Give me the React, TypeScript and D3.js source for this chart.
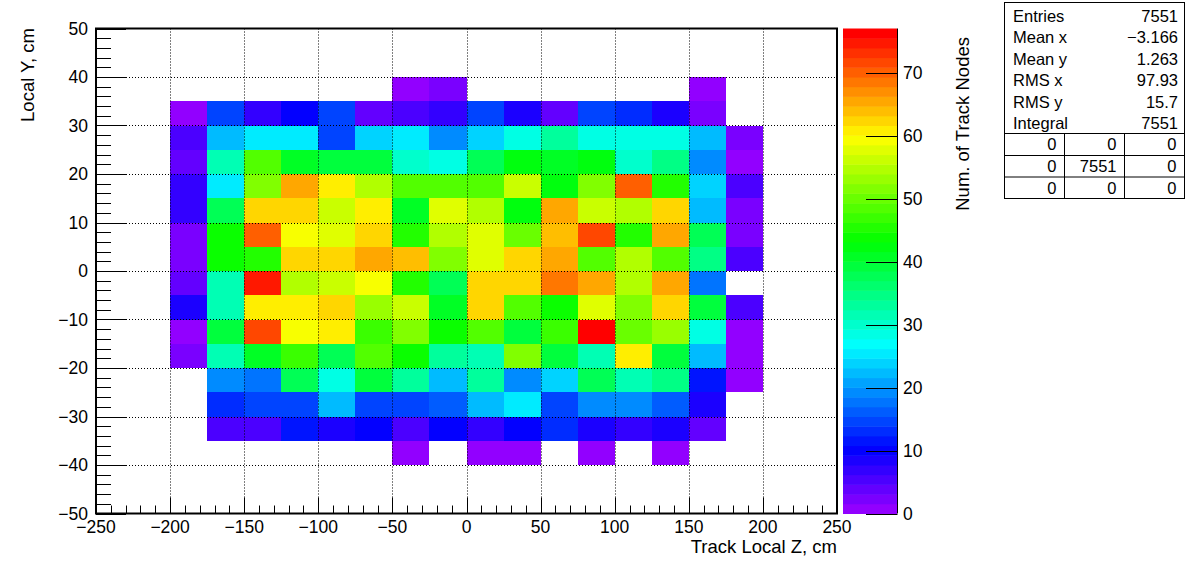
import React, { useEffect, useRef } from 'react';
import * as d3 from 'd3';

// bin low edges (cm)
const zLow = [-200, -175, -150, -125, -100, -75, -50, -25, 0, 25, 50, 75, 100, 125, 150, 175];
const yLow = [35, 30, 25, 20, 15, 10, 5, 0, -5, -10, -15, -20, -25, -30, -35, -40];

// counts per row, top row (y = 35..40) first, columns follow zLow
const row35 = [0, 0, 0, 0, 0, 0, 1, 2, 0, 0, 0, 0, 0, 0, 1, 0];
const row30 = [1, 15, 7, 10, 15, 4, 6, 7, 14, 8, 4, 15, 13, 8, 2, 0];
const row25 = [6, 22, 25, 25, 15, 24, 25, 19, 24, 28, 33, 28, 28, 28, 22, 2];
const row20 = [4, 31, 48, 41, 39, 39, 30, 28, 38, 42, 41, 42, 30, 35, 19, 1];
const row15 = [7, 25, 52, 65, 61, 55, 48, 48, 48, 56, 42, 52, 70, 45, 24, 5];
const row10 = [7, 38, 62, 62, 56, 61, 41, 58, 55, 42, 65, 56, 55, 62, 22, 2];
const row05 = [2, 44, 70, 59, 58, 62, 45, 55, 58, 50, 64, 72, 45, 65, 38, 2];
const row00 = [2, 44, 45, 62, 62, 65, 64, 52, 58, 62, 65, 48, 55, 48, 35, 5];
const rowM05 = [4, 32, 75, 55, 56, 59, 45, 38, 62, 62, 68, 65, 55, 65, 18, 0];
const rowM10 = [8, 32, 61, 61, 62, 53, 56, 41, 62, 48, 44, 58, 52, 62, 39, 5];
const rowM15 = [1, 39, 72, 59, 61, 47, 52, 44, 48, 39, 47, 77, 50, 53, 28, 1];
const rowM20 = [2, 32, 41, 47, 38, 48, 44, 33, 32, 52, 39, 32, 61, 39, 22, 1];
const rowM25 = [0, 19, 18, 38, 28, 39, 33, 22, 33, 19, 24, 38, 32, 35, 11, 1];
const rowM30 = [0, 13, 15, 15, 22, 15, 15, 16, 22, 25, 14, 19, 19, 16, 8, 0];
const rowM35 = [0, 5, 5, 11, 8, 10, 6, 10, 7, 10, 13, 8, 7, 8, 4, 0];
const rowM40 = [0, 0, 0, 0, 0, 0, 1, 0, 1, 1, 0, 1, 0, 1, 0, 0];
const rows = [row35, row30, row25, row20, row15, row10, row05, row00,
  rowM05, rowM10, rowM15, rowM20, rowM25, rowM30, rowM35, rowM40];

const xTicks = [-250, -200, -150, -100, -50, 0, 50, 100, 150, 200, 250];
const yTicks = [-50, -40, -30, -20, -10, 0, 10, 20, 30, 40, 50];
const zTicks = [0, 10, 20, 30, 40, 50, 60, 70];

const statNames = ['Entries', 'Mean x', 'Mean y', 'RMS x', 'RMS y', 'Integral'];
const statValues = ['7551', '\u22123.166', '1.263', '97.93', '15.7', '7551'];
const overflowTable = [['0', '0', '0'], ['0', '7551', '0'], ['0', '0', '0']];

const zMax = 77;
const nColors = 50;
const font = '"Liberation Sans", Arial, Helvetica, sans-serif';

const fmt = (v: number) => (v < 0 ? '\u2212' + Math.abs(v) : String(v));

function draw(el: SVGSVGElement) {
  const svg = d3.select(el);
  svg.selectAll('*').remove();

  const x = d3.scaleLinear().domain([-250, 250]).range([96, 837]);
  const y = d3.scaleLinear().domain([-50, 50]).range([513.5, 28.5]);
  const z = d3.scaleLinear().domain([0, zMax]).range([513.5, 28.5]);

  // ROOT "pretty" palette: violet -> red in HLS
  const palette = d3.range(nColors).map(i =>
    i < nColors - 1 ? d3.hsl(280 - (i + 1) * 5.6, 1, 0.5).formatRgb() : 'rgb(255,0,0)');
  const colorOf = (v: number) => palette[Math.min(nColors - 1, Math.floor(v * nColors / zMax + 0.01))];

  /**
  * Cells
  **/
  const cells: { zl: number; yl: number; v: number }[] = [];
  rows.forEach((r, ri) => r.forEach((v, ci) => {
    if (v > 0) cells.push({ zl: zLow[ci], yl: yLow[ri], v });
  }));

  svg.append('g').selectAll('rect').data(cells).enter().append('rect')
    .attr('x', d => x(d.zl))
    .attr('y', d => y(d.yl + 5))
    .attr('width', d => x(d.zl + 25) - x(d.zl))
    .attr('height', d => y(d.yl) - y(d.yl + 5))
    .attr('fill', d => colorOf(d.v))
    .attr('shape-rendering', 'crispEdges');

  /**
  * Grid
  **/
  const grid = svg.append('g').attr('stroke', '#000').attr('stroke-dasharray', '1,2').attr('stroke-width', 1);
  xTicks.slice(1, -1).forEach(t => {
    grid.append('line').attr('x1', Math.round(x(t)) + 0.5).attr('x2', Math.round(x(t)) + 0.5)
      .attr('y1', y(50)).attr('y2', y(-50));
  });
  yTicks.slice(1, -1).forEach(t => {
    grid.append('line').attr('y1', Math.round(y(t)) + 0.5).attr('y2', Math.round(y(t)) + 0.5)
      .attr('x1', x(-250)).attr('x2', x(250));
  });

  /**
  * Axes ticks
  **/
  const ax = svg.append('g').attr('stroke', '#000').attr('stroke-width', 1);
  for (let v = -50; v <= 50; v += 2) {
    const major = v % 10 === 0;
    const py = Math.round(y(v)) + 0.5;
    ax.append('line').attr('x1', x(-250)).attr('x2', x(-250) + (major ? 30 : 15)).attr('y1', py).attr('y2', py);
  }
  for (let v = -250; v <= 250; v += 10) {
    const major = v % 50 === 0;
    const px = Math.round(x(v)) + 0.5;
    ax.append('line').attr('x1', px).attr('x2', px).attr('y1', y(-50)).attr('y2', y(-50) - (major ? 16 : 8));
  }

  svg.append('rect')
    .attr('x', x(-250)).attr('y', y(50))
    .attr('width', x(250) - x(-250)).attr('height', y(-50) - y(50))
    .attr('fill', 'none').attr('stroke', '#000').attr('stroke-width', 2);

  /**
  * Tick labels
  **/
  const labels = svg.append('g').attr('font-family', font).attr('font-size', 17.5).attr('fill', '#000');
  labels.selectAll('.yl').data(yTicks).enter().append('text')
    .attr('x', 88).attr('y', d => y(d)).attr('dy', '0.36em')
    .attr('text-anchor', 'end').text(d => fmt(d));
  labels.selectAll('.xl').data(xTicks).enter().append('text')
    .attr('x', d => x(d)).attr('y', 533)
    .attr('text-anchor', 'middle').text(d => fmt(d));

  // titles
  svg.append('text').attr('font-family', font).attr('font-size', 18.5)
    .attr('x', 837).attr('y', 553).attr('text-anchor', 'end').text('Track Local Z, cm');
  svg.append('text').attr('font-family', font).attr('font-size', 18.5)
    .attr('transform', 'translate(34,28) rotate(-90)').attr('text-anchor', 'end').text('Local Y, cm');
  svg.append('text').attr('font-family', font).attr('font-size', 18.5)
    .attr('transform', 'translate(969,37) rotate(-90)').attr('text-anchor', 'end').text('Num. of Track Nodes');

  /**
  * Palette bar
  **/
  const bar = svg.append('g');
  bar.selectAll('rect').data(palette).enter().append('rect')
    .attr('x', 843).attr('width', 54)
    .attr('y', (d, i) => z((i + 1) * zMax / nColors))
    .attr('height', (d, i) => z(i * zMax / nColors) - z((i + 1) * zMax / nColors) + 0.5)
    .attr('fill', d => d);
  bar.append('line').attr('x1', 897.5).attr('x2', 897.5).attr('y1', z(zMax)).attr('y2', z(0)).attr('stroke', '#000');
  zTicks.forEach(t => {
    const py = Math.round(z(t)) + 0.5;
    bar.append('line').attr('x1', 866).attr('x2', 897.5).attr('y1', py).attr('y2', py).attr('stroke', '#000');
    bar.append('text').attr('font-family', font).attr('font-size', 17.5)
      .attr('x', 903).attr('y', z(t)).attr('dy', '0.36em').text(String(t));
  });

  /**
  * Stats box
  **/
  const st = svg.append('g').attr('font-family', font).attr('font-size', 16.5);
  st.append('rect').attr('x', 1004.5).attr('y', 2.5).attr('width', 180).attr('height', 196)
    .attr('fill', '#fff').attr('stroke', '#000');
  statNames.forEach((n, i) => {
    const cy = 16 + i * 21.5;
    st.append('text').attr('x', 1013).attr('y', cy).attr('dy', '0.36em').text(n);
    st.append('text').attr('x', 1178).attr('y', cy).attr('dy', '0.36em').attr('text-anchor', 'end').text(statValues[i]);
  });
  const rowTop = [133.5, 155.5, 177];
  const colRight = [1064.5, 1124.5, 1184.5];
  rowTop.forEach(t => {
    st.append('line').attr('x1', 1004.5).attr('x2', 1184.5).attr('y1', t).attr('y2', t).attr('stroke', '#000');
  });
  [1064.5, 1124.5].forEach(cx => {
    st.append('line').attr('x1', cx).attr('x2', cx).attr('y1', 133.5).attr('y2', 198.5).attr('stroke', '#000');
  });
  overflowTable.forEach((r, ri) => r.forEach((v, ci) => {
    st.append('text').attr('x', colRight[ci] - 8).attr('y', rowTop[ri] + 11).attr('dy', '0.36em')
      .attr('text-anchor', 'end').text(v);
  }));
}

export default function App() {
  const ref = useRef<SVGSVGElement>(null);
  useEffect(() => {
    if (ref.current) draw(ref.current);
  }, []);
  return (
    <svg ref={ref} width={1196} height={572}
      style={{ position: 'absolute', left: 0, top: 0, background: '#fff', display: 'block' }} />
  );
}
